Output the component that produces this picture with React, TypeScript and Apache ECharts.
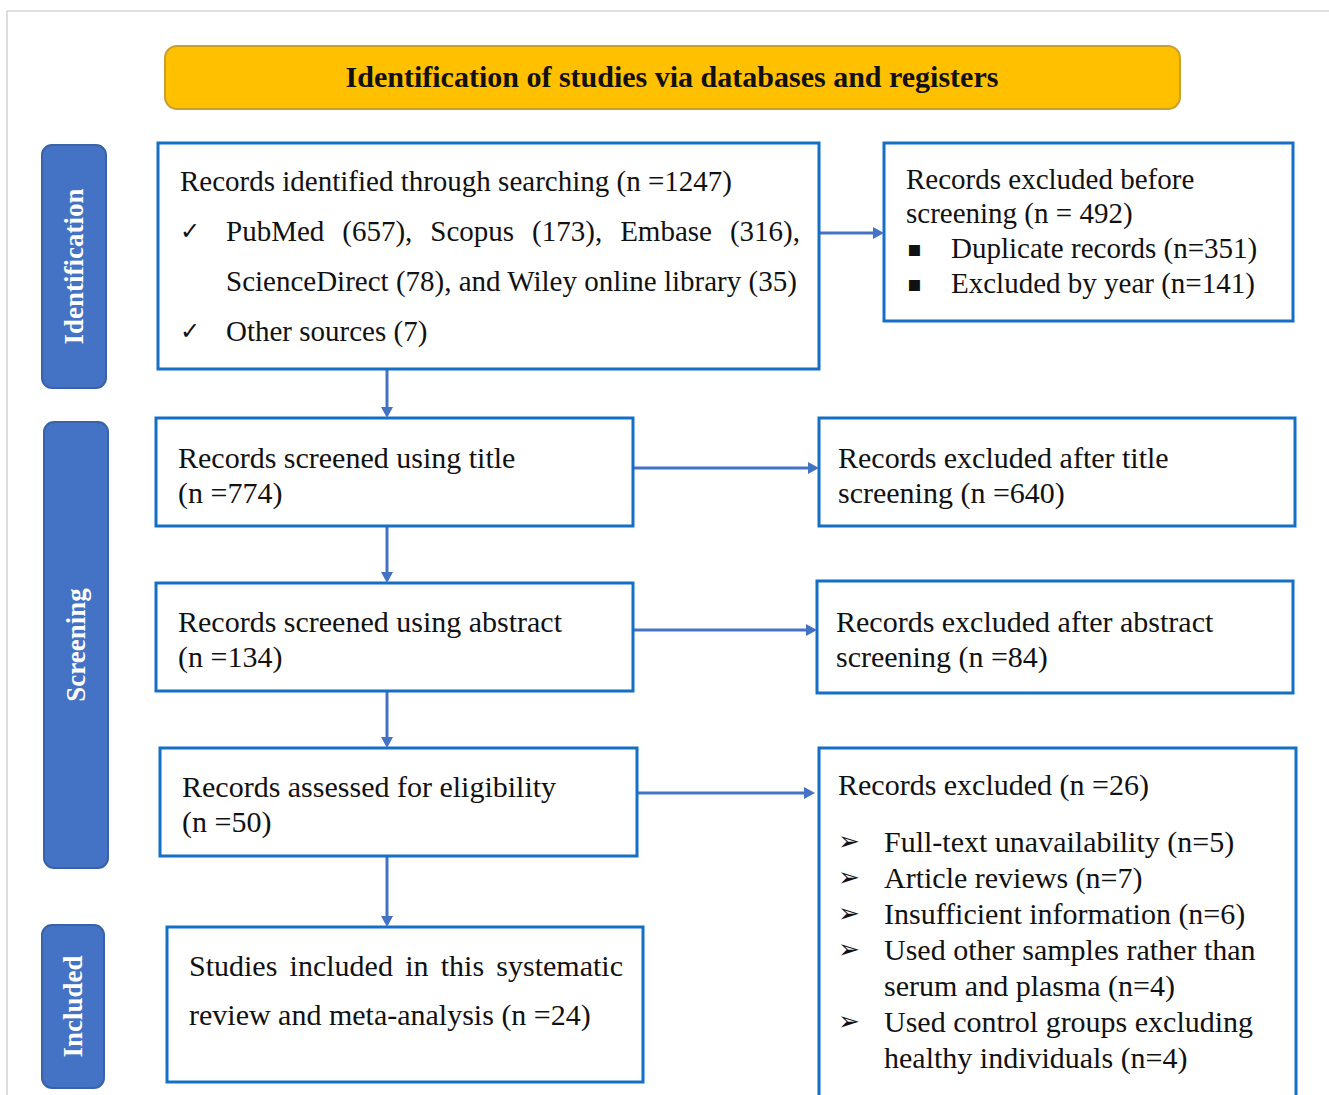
import React, { useEffect, useRef } from "react";
import * as echarts from "echarts";

const HEADER = "Identification of studies via databases and registers";
const PHASES = ["Identification", "Screening", "Included"];

const BOX1_TITLE = "Records identified through searching (n =1247)";
const BOX1_SOURCES_JUST = ["PubMed", "(657),", "Scopus", "(173),", "Embase", "(316),"];
const BOX1_SOURCES_2 = "ScienceDirect (78), and Wiley online library (35)";
const BOX1_OTHER = "Other sources (7)";

const EXCL1_LINES = ["Records excluded before", "screening (n = 492)"];
const EXCL1_BULLETS = ["Duplicate records (n=351)", "Excluded by year (n=141)"];

const BOX2_LINES = ["Records screened using title", "(n =774)"];
const EXCL2_LINES = ["Records excluded after title", "screening (n =640)"];
const BOX3_LINES = ["Records screened using abstract", "(n =134)"];
const EXCL3_LINES = ["Records excluded after abstract", "screening (n =84)"];
const BOX4_LINES = ["Records assessed for eligibility", "(n =50)"];
const EXCL4_TITLE = "Records excluded (n =26)";
const EXCL4_REASONS = [
  ["Full-text unavailability (n=5)"],
  ["Article reviews (n=7)"],
  ["Insufficient information (n=6)"],
  ["Used other samples rather than", "serum and plasma (n=4)"],
  ["Used control groups excluding", "healthy individuals (n=4)"],
];
const BOX5_JUST = ["Studies", "included", "in", "this", "systematic"];
const BOX5_LINE2 = "review and meta-analysis (n =24)";

const SERIF = "'Liberation Serif', 'Times New Roman', serif";
const SYM = "'DejaVu Sans', sans-serif";
const FS = 30;
const TXT = "#111111";
const BOX_STROKE = "#1470C4";
const ARROW = "#4472C4";

let _ctx: CanvasRenderingContext2D | null = null;
function measure(t: string, font: string) {
  if (!_ctx) _ctx = document.createElement("canvas").getContext("2d");
  _ctx!.font = font;
  return _ctx!.measureText(t).width;
}

function txt(x: number, y: number, s: string, o: any = {}) {
  return {
    type: "text",
    x,
    y,
    z: 10,
    rotation: o.rotation || 0,
    style: {
      text: s,
      fontFamily: o.family || SERIF,
      fontSize: o.size || FS,
      fontWeight: o.weight || "normal",
      fill: o.fill || TXT,
      align: o.align || "left",
      verticalAlign: "middle",
    },
  };
}

function justify(words: string[], x0: number, x1: number, y: number, size = FS) {
  const font = `${size}px ${SERIF}`;
  const ws = words.map((w) => measure(w, font));
  const sum = ws.reduce((a, b) => a + b, 0);
  const gap = (x1 - x0 - sum) / (words.length - 1);
  const out: any[] = [];
  let x = x0;
  words.forEach((w, i) => {
    out.push(txt(x, y, w, { size }));
    x += ws[i] + gap;
  });
  return out;
}

function box(x0: number, y0: number, x1: number, y1: number) {
  return {
    type: "rect",
    z: 5,
    shape: { x: x0, y: y0, width: x1 - x0, height: y1 - y0 },
    style: { fill: "#fff", stroke: BOX_STROKE, lineWidth: 3 },
  };
}

function vArrow(x: number, y0: number, y1: number) {
  return [
    { type: "line", z: 4, shape: { x1: x, y1: y0, x2: x, y2: y1 - 9 }, style: { stroke: ARROW, lineWidth: 3 } },
    { type: "polygon", z: 6, shape: { points: [[x - 6, y1 - 11], [x + 6, y1 - 11], [x, y1]] }, style: { fill: ARROW } },
  ];
}
function hArrow(y: number, x0: number, x1: number) {
  return [
    { type: "line", z: 4, shape: { x1: x0, y1: y, x2: x1 - 9, y2: y }, style: { stroke: ARROW, lineWidth: 3 } },
    { type: "polygon", z: 6, shape: { points: [[x1 - 11, y - 6], [x1 - 11, y + 6], [x1, y]] }, style: { fill: ARROW } },
  ];
}

function phase(x0: number, y0: number, x1: number, y1: number, label: string) {
  return [
    {
      type: "rect",
      z: 5,
      shape: { x: x0, y: y0, width: x1 - x0, height: y1 - y0, r: 10 },
      style: { fill: "#4472C4", stroke: "#3A62A8", lineWidth: 2 },
    },
    txt((x0 + x1) / 2, (y0 + y1) / 2, label, {
      rotation: Math.PI / 2,
      align: "center",
      weight: "bold",
      size: 27,
      fill: "#ffffff",
    }),
  ];
}

export default function App() {
  const ref = useRef<HTMLDivElement>(null);
  useEffect(() => {
    document.body.style.margin = "0";
    const chart = echarts.init(ref.current!, null, { renderer: "svg" });
    const g: any[] = [];
    // frame
    g.push({ type: "line", shape: { x1: 7, y1: 11, x2: 1329, y2: 11 }, style: { stroke: "#bdbdbd", lineWidth: 1 } });
    g.push({ type: "line", shape: { x1: 7, y1: 11, x2: 7, y2: 1095 }, style: { stroke: "#bdbdbd", lineWidth: 1 } });

    // header
    g.push({
      type: "rect",
      z: 5,
      shape: { x: 165, y: 46, width: 1015, height: 63, r: 12 },
      style: { fill: "#FFC000", stroke: "#C9A030", lineWidth: 2 },
    });
    g.push(txt(672, 76, HEADER, { align: "center", weight: "bold", size: 30 }));

    // phases
    g.push(...phase(42, 145, 106, 388, PHASES[0]));
    g.push(...phase(44, 422, 108, 868, PHASES[1]));
    g.push(...phase(42, 925, 104, 1088, PHASES[2]));

    // box 1
    g.push(box(158, 143, 819, 369));
    g.push(txt(180, 181, BOX1_TITLE, { size: 29 }));
    g.push(txt(180, 231, "✓", { family: SYM, size: 24 }));
    g.push(...justify(BOX1_SOURCES_JUST, 226, 800, 231, 29));
    g.push(txt(226, 281, BOX1_SOURCES_2, { size: 29 }));
    g.push(txt(180, 331, "✓", { family: SYM, size: 24 }));
    g.push(txt(226, 331, BOX1_OTHER, { size: 29 }));

    // excl 1
    g.push(box(884, 143, 1293, 321));
    g.push(txt(906, 179, EXCL1_LINES[0], { size: 29 }));
    g.push(txt(906, 213, EXCL1_LINES[1], { size: 29 }));
    EXCL1_BULLETS.forEach((b, i) => {
      const y = 248 + i * 35;
      g.push(txt(907, y, "▪", { family: SYM, size: 22 }));
      g.push(txt(951, y, b, { size: 29 }));
    });

    // box 2-4 and excl 2-4
    g.push(box(156, 418, 633, 526));
    g.push(txt(178, 457, BOX2_LINES[0]));
    g.push(txt(178, 492, BOX2_LINES[1]));
    g.push(box(819, 418, 1295, 526));
    g.push(txt(838, 457, EXCL2_LINES[0]));
    g.push(txt(838, 492, EXCL2_LINES[1]));

    g.push(box(156, 583, 633, 691));
    g.push(txt(178, 621, BOX3_LINES[0]));
    g.push(txt(178, 656, BOX3_LINES[1]));
    g.push(box(817, 581, 1293, 693));
    g.push(txt(836, 621, EXCL3_LINES[0]));
    g.push(txt(836, 656, EXCL3_LINES[1]));

    g.push(box(160, 748, 637, 856));
    g.push(txt(182, 786, BOX4_LINES[0]));
    g.push(txt(182, 821, BOX4_LINES[1]));

    g.push(box(819, 748, 1296, 1097));
    g.push(txt(838, 784, EXCL4_TITLE));
    let y = 841;
    EXCL4_REASONS.forEach((r) => {
      g.push(txt(838, y, "➢", { family: SYM, size: 26 }));
      r.forEach((line) => {
        g.push(txt(884, y, line));
        y += 36;
      });
    });

    // box 5
    g.push(box(167, 927, 643, 1082));
    g.push(...justify(BOX5_JUST, 189, 623, 965));
    g.push(txt(189, 1014, BOX5_LINE2));

    // arrows
    g.push(...vArrow(387, 369, 418));
    g.push(...vArrow(387, 526, 583));
    g.push(...vArrow(387, 691, 748));
    g.push(...vArrow(387, 856, 927));
    g.push(...hArrow(233, 819, 884));
    g.push(...hArrow(468, 633, 819));
    g.push(...hArrow(630, 633, 817));
    g.push(...hArrow(793, 637, 815));

    chart.setOption({ animation: false, backgroundColor: "#ffffff", graphic: { elements: g } });
    return () => chart.dispose();
  }, []);
  return <div ref={ref} style={{ width: 1329, height: 1095 }} />;
}
